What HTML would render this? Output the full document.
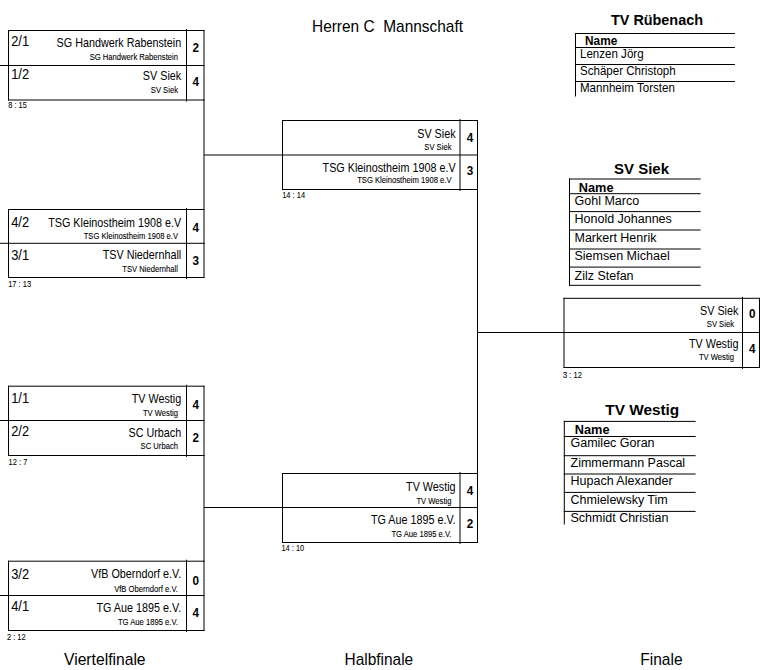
<!DOCTYPE html>
<html><head><meta charset="utf-8"><style>
html,body{margin:0;padding:0;background:#fff;width:760px;height:670px;overflow:hidden}
svg{display:block}
text{font-family:"Liberation Sans", sans-serif}
</style></head><body>
<svg width="760" height="670" viewBox="0 0 760 670">
<rect width="760" height="670" fill="#fff"/>
<line x1="8.0" y1="30.5" x2="204.5" y2="30.5" stroke="#000" stroke-width="1"/>
<line x1="8.0" y1="65.5" x2="204.5" y2="65.5" stroke="#000" stroke-width="1"/>
<line x1="8.0" y1="100.0" x2="204.5" y2="100.0" stroke="#000" stroke-width="1"/>
<line x1="8.5" y1="30.0" x2="8.5" y2="100.5" stroke="#000" stroke-width="1"/>
<line x1="204.0" y1="30.0" x2="204.0" y2="100.5" stroke="#000" stroke-width="1"/>
<line x1="186.5" y1="29.0" x2="186.5" y2="101.5" stroke="#000" stroke-width="1"/>
<line x1="0" y1="65.5" x2="8.5" y2="65.5" stroke="#000" stroke-width="1"/>
<text transform="translate(181.2 46.8) scale(0.805 1)" font-size="13.4" text-anchor="end" fill="#000">SG Handwerk Rabenstein</text>
<text transform="translate(178.0 60.3) scale(0.9 1)" font-size="8.5" text-anchor="end" fill="#000" stroke="#000" stroke-width="0.1">SG Handwerk Rabenstein</text>
<text transform="translate(195.75 52.3) scale(0.9 1)" font-size="13" text-anchor="middle" font-weight="bold" fill="#000">2</text>
<text transform="translate(181.2 79.9) scale(0.805 1)" font-size="13.4" text-anchor="end" fill="#000">SV Siek</text>
<text transform="translate(178.0 93.1) scale(0.9 1)" font-size="8.5" text-anchor="end" fill="#000" stroke="#000" stroke-width="0.1">SV Siek</text>
<text transform="translate(195.75 85.9) scale(0.9 1)" font-size="13" text-anchor="middle" font-weight="bold" fill="#000">4</text>
<text transform="translate(11.2 45.8) scale(0.92 1)" font-size="14" text-anchor="start" fill="#000">2/1</text>
<text transform="translate(11.2 79.0) scale(0.92 1)" font-size="14" text-anchor="start" fill="#000">1/2</text>
<text transform="translate(8.2 107.9) scale(0.83 1)" font-size="9" text-anchor="start" fill="#000" stroke="#000" stroke-width="0.08">8 : 15</text>
<line x1="8.0" y1="209.5" x2="204.5" y2="209.5" stroke="#000" stroke-width="1"/>
<line x1="8.0" y1="243.3" x2="204.5" y2="243.3" stroke="#000" stroke-width="1"/>
<line x1="8.0" y1="277.5" x2="204.5" y2="277.5" stroke="#000" stroke-width="1"/>
<line x1="8.5" y1="209.0" x2="8.5" y2="278.0" stroke="#000" stroke-width="1"/>
<line x1="204.0" y1="209.0" x2="204.0" y2="278.0" stroke="#000" stroke-width="1"/>
<line x1="186.5" y1="208.0" x2="186.5" y2="279.0" stroke="#000" stroke-width="1"/>
<line x1="0" y1="243.3" x2="8.5" y2="243.3" stroke="#000" stroke-width="1"/>
<text transform="translate(181.2 226.7) scale(0.805 1)" font-size="13.4" text-anchor="end" fill="#000">TSG Kleinostheim 1908 e.V</text>
<text transform="translate(178.0 239.1) scale(0.9 1)" font-size="8.5" text-anchor="end" fill="#000" stroke="#000" stroke-width="0.1">TSG Kleinostheim 1908 e.V</text>
<text transform="translate(195.75 231.6) scale(0.9 1)" font-size="13" text-anchor="middle" font-weight="bold" fill="#000">4</text>
<text transform="translate(181.2 259.3) scale(0.805 1)" font-size="13.4" text-anchor="end" fill="#000">TSV Niedernhall</text>
<text transform="translate(178.0 272.0) scale(0.9 1)" font-size="8.5" text-anchor="end" fill="#000" stroke="#000" stroke-width="0.1">TSV Niedernhall</text>
<text transform="translate(195.75 264.7) scale(0.9 1)" font-size="13" text-anchor="middle" font-weight="bold" fill="#000">3</text>
<text transform="translate(11.2 226.8) scale(0.92 1)" font-size="14" text-anchor="start" fill="#000">4/2</text>
<text transform="translate(11.2 259.5) scale(0.92 1)" font-size="14" text-anchor="start" fill="#000">3/1</text>
<text transform="translate(8.2 286.8) scale(0.83 1)" font-size="9" text-anchor="start" fill="#000" stroke="#000" stroke-width="0.08">17 : 13</text>
<line x1="8.0" y1="386.2" x2="204.5" y2="386.2" stroke="#000" stroke-width="1"/>
<line x1="8.0" y1="420.5" x2="204.5" y2="420.5" stroke="#000" stroke-width="1"/>
<line x1="8.0" y1="455.5" x2="204.5" y2="455.5" stroke="#000" stroke-width="1"/>
<line x1="8.5" y1="385.7" x2="8.5" y2="456.0" stroke="#000" stroke-width="1"/>
<line x1="204.0" y1="385.7" x2="204.0" y2="456.0" stroke="#000" stroke-width="1"/>
<line x1="186.5" y1="384.7" x2="186.5" y2="457.0" stroke="#000" stroke-width="1"/>
<line x1="0" y1="420.5" x2="8.5" y2="420.5" stroke="#000" stroke-width="1"/>
<text transform="translate(181.2 403.4) scale(0.805 1)" font-size="13.4" text-anchor="end" fill="#000">TV Westig</text>
<text transform="translate(178.0 415.8) scale(0.9 1)" font-size="8.5" text-anchor="end" fill="#000" stroke="#000" stroke-width="0.1">TV Westig</text>
<text transform="translate(195.75 409.2) scale(0.9 1)" font-size="13" text-anchor="middle" font-weight="bold" fill="#000">4</text>
<text transform="translate(181.2 436.6) scale(0.805 1)" font-size="13.4" text-anchor="end" fill="#000">SC Urbach</text>
<text transform="translate(178.0 448.7) scale(0.9 1)" font-size="8.5" text-anchor="end" fill="#000" stroke="#000" stroke-width="0.1">SC Urbach</text>
<text transform="translate(195.75 442.1) scale(0.9 1)" font-size="13" text-anchor="middle" font-weight="bold" fill="#000">2</text>
<text transform="translate(11.2 403.4) scale(0.92 1)" font-size="14" text-anchor="start" fill="#000">1/1</text>
<text transform="translate(11.2 436.0) scale(0.92 1)" font-size="14" text-anchor="start" fill="#000">2/2</text>
<text transform="translate(8.6 464.7) scale(0.83 1)" font-size="9" text-anchor="start" fill="#000" stroke="#000" stroke-width="0.08">12 : 7</text>
<line x1="8.0" y1="561.2" x2="204.5" y2="561.2" stroke="#000" stroke-width="1"/>
<line x1="8.0" y1="595.5" x2="204.5" y2="595.5" stroke="#000" stroke-width="1"/>
<line x1="8.0" y1="630.5" x2="204.5" y2="630.5" stroke="#000" stroke-width="1"/>
<line x1="8.5" y1="560.7" x2="8.5" y2="631.0" stroke="#000" stroke-width="1"/>
<line x1="204.0" y1="560.7" x2="204.0" y2="631.0" stroke="#000" stroke-width="1"/>
<line x1="186.5" y1="559.7" x2="186.5" y2="632.0" stroke="#000" stroke-width="1"/>
<line x1="0" y1="595.5" x2="8.5" y2="595.5" stroke="#000" stroke-width="1"/>
<text transform="translate(181.2 578.4) scale(0.805 1)" font-size="13.4" text-anchor="end" fill="#000">VfB Oberndorf e.V.</text>
<text transform="translate(178.0 591.8) scale(0.9 1)" font-size="8.5" text-anchor="end" fill="#000" stroke="#000" stroke-width="0.1">VfB Oberndorf e.V.</text>
<text transform="translate(195.75 584.6) scale(0.9 1)" font-size="13" text-anchor="middle" font-weight="bold" fill="#000">0</text>
<text transform="translate(181.2 611.8) scale(0.805 1)" font-size="13.4" text-anchor="end" fill="#000">TG Aue 1895 e.V.</text>
<text transform="translate(178.0 624.7) scale(0.9 1)" font-size="8.5" text-anchor="end" fill="#000" stroke="#000" stroke-width="0.1">TG Aue 1895 e.V.</text>
<text transform="translate(195.75 617.1) scale(0.9 1)" font-size="13" text-anchor="middle" font-weight="bold" fill="#000">4</text>
<text transform="translate(11.2 578.7) scale(0.92 1)" font-size="14" text-anchor="start" fill="#000">3/2</text>
<text transform="translate(11.2 611.0) scale(0.92 1)" font-size="14" text-anchor="start" fill="#000">4/1</text>
<text transform="translate(6.999999999999999 639.7) scale(0.83 1)" font-size="9" text-anchor="start" fill="#000" stroke="#000" stroke-width="0.08">2 : 12</text>
<line x1="204.0" y1="100.0" x2="204.0" y2="209.5" stroke="#000" stroke-width="1"/>
<line x1="204.0" y1="155.0" x2="282.5" y2="155.0" stroke="#000" stroke-width="1"/>
<line x1="204.0" y1="455.5" x2="204.0" y2="561.2" stroke="#000" stroke-width="1"/>
<line x1="204.0" y1="507.5" x2="282.5" y2="507.5" stroke="#000" stroke-width="1"/>
<line x1="282.0" y1="120.5" x2="478.0" y2="120.5" stroke="#000" stroke-width="1"/>
<line x1="282.0" y1="155.0" x2="478.0" y2="155.0" stroke="#000" stroke-width="1"/>
<line x1="282.0" y1="189.5" x2="478.0" y2="189.5" stroke="#000" stroke-width="1"/>
<line x1="282.5" y1="120.0" x2="282.5" y2="190.0" stroke="#000" stroke-width="1"/>
<line x1="477.5" y1="120.0" x2="477.5" y2="190.0" stroke="#000" stroke-width="1"/>
<line x1="460.0" y1="119.0" x2="460.0" y2="191.0" stroke="#000" stroke-width="1"/>
<text transform="translate(455.6 138.3) scale(0.805 1)" font-size="13.4" text-anchor="end" fill="#000">SV Siek</text>
<text transform="translate(451.5 149.8) scale(0.9 1)" font-size="8.5" text-anchor="end" fill="#000" stroke="#000" stroke-width="0.1">SV Siek</text>
<text transform="translate(470.05 141.9) scale(0.9 1)" font-size="13" text-anchor="middle" font-weight="bold" fill="#000">4</text>
<text transform="translate(455.6 171.6) scale(0.805 1)" font-size="13.4" text-anchor="end" fill="#000">TSG Kleinostheim 1908 e.V</text>
<text transform="translate(451.5 183.1) scale(0.9 1)" font-size="8.5" text-anchor="end" fill="#000" stroke="#000" stroke-width="0.1">TSG Kleinostheim 1908 e.V</text>
<text transform="translate(470.05 174.8) scale(0.9 1)" font-size="13" text-anchor="middle" font-weight="bold" fill="#000">3</text>
<text transform="translate(282.2 197.9) scale(0.83 1)" font-size="9" text-anchor="start" fill="#000" stroke="#000" stroke-width="0.08">14 : 14</text>
<line x1="282.0" y1="473.5" x2="478.0" y2="473.5" stroke="#000" stroke-width="1"/>
<line x1="282.0" y1="507.5" x2="478.0" y2="507.5" stroke="#000" stroke-width="1"/>
<line x1="282.0" y1="542.5" x2="478.0" y2="542.5" stroke="#000" stroke-width="1"/>
<line x1="282.5" y1="473.0" x2="282.5" y2="543.0" stroke="#000" stroke-width="1"/>
<line x1="477.5" y1="473.0" x2="477.5" y2="543.0" stroke="#000" stroke-width="1"/>
<line x1="460.0" y1="472.0" x2="460.0" y2="544.0" stroke="#000" stroke-width="1"/>
<text transform="translate(455.6 491.3) scale(0.805 1)" font-size="13.4" text-anchor="end" fill="#000">TV Westig</text>
<text transform="translate(451.5 504.1) scale(0.9 1)" font-size="8.5" text-anchor="end" fill="#000" stroke="#000" stroke-width="0.1">TV Westig</text>
<text transform="translate(470.05 494.9) scale(0.9 1)" font-size="13" text-anchor="middle" font-weight="bold" fill="#000">4</text>
<text transform="translate(455.6 523.8) scale(0.805 1)" font-size="13.4" text-anchor="end" fill="#000">TG Aue 1895 e.V.</text>
<text transform="translate(451.5 536.7) scale(0.9 1)" font-size="8.5" text-anchor="end" fill="#000" stroke="#000" stroke-width="0.1">TG Aue 1895 e.V.</text>
<text transform="translate(470.05 527.8) scale(0.9 1)" font-size="13" text-anchor="middle" font-weight="bold" fill="#000">2</text>
<text transform="translate(281.4 551.0) scale(0.83 1)" font-size="9" text-anchor="start" fill="#000" stroke="#000" stroke-width="0.08">14 : 10</text>
<line x1="477.5" y1="189.5" x2="477.5" y2="473.5" stroke="#000" stroke-width="1"/>
<line x1="477.5" y1="332.5" x2="564.0" y2="332.5" stroke="#000" stroke-width="1"/>
<line x1="563.5" y1="298.3" x2="760.0" y2="298.3" stroke="#000" stroke-width="1"/>
<line x1="563.5" y1="332.5" x2="760.0" y2="332.5" stroke="#000" stroke-width="1"/>
<line x1="563.5" y1="367.5" x2="760.0" y2="367.5" stroke="#000" stroke-width="1"/>
<line x1="564.0" y1="297.8" x2="564.0" y2="368.0" stroke="#000" stroke-width="1"/>
<line x1="759.5" y1="297.8" x2="759.5" y2="368.0" stroke="#000" stroke-width="1"/>
<line x1="742.5" y1="296.8" x2="742.5" y2="369.0" stroke="#000" stroke-width="1"/>
<text transform="translate(738.4 315.4) scale(0.805 1)" font-size="13.4" text-anchor="end" fill="#000">SV Siek</text>
<text transform="translate(734.0 326.9) scale(0.9 1)" font-size="8.5" text-anchor="end" fill="#000" stroke="#000" stroke-width="0.1">SV Siek</text>
<text transform="translate(752.3 318.3) scale(0.9 1)" font-size="13" text-anchor="middle" font-weight="bold" fill="#000">0</text>
<text transform="translate(738.4 347.9) scale(0.805 1)" font-size="13.4" text-anchor="end" fill="#000">TV Westig</text>
<text transform="translate(734.0 360.4) scale(0.9 1)" font-size="8.5" text-anchor="end" fill="#000" stroke="#000" stroke-width="0.1">TV Westig</text>
<text transform="translate(752.3 352.5) scale(0.9 1)" font-size="13" text-anchor="middle" font-weight="bold" fill="#000">4</text>
<text transform="translate(563.1 377.9) scale(0.83 1)" font-size="9" text-anchor="start" fill="#000" stroke="#000" stroke-width="0.08">3 : 12</text>
<text transform="translate(312.0 32.3) scale(0.965 1)" font-size="16" text-anchor="start" fill="#000">Herren C&#160; Mannschaft</text>
<text transform="translate(64.0 665.2) scale(0.98 1)" font-size="16" text-anchor="start" fill="#000">Viertelfinale</text>
<text transform="translate(344.5 665.0) scale(0.965 1)" font-size="16" text-anchor="start" fill="#000">Halbfinale</text>
<text transform="translate(640.3 665.2) scale(0.97 1)" font-size="16" text-anchor="start" fill="#000">Finale</text>
<text transform="translate(611.0 25.0) scale(0.96 1)" font-size="15" text-anchor="start" font-weight="bold" fill="#000">TV R&#252;benach</text>
<line x1="575.0" y1="33.5" x2="735" y2="33.5" stroke="#000" stroke-width="1"/>
<line x1="575.0" y1="47.5" x2="735" y2="47.5" stroke="#000" stroke-width="1"/>
<line x1="575.0" y1="64.5" x2="735" y2="64.5" stroke="#000" stroke-width="1"/>
<line x1="575.0" y1="81.5" x2="735" y2="81.5" stroke="#000" stroke-width="1"/>
<line x1="575.5" y1="33.0" x2="575.5" y2="96.5" stroke="#000" stroke-width="1"/>
<text transform="translate(585.0 45.2) scale(0.95 1)" font-size="12.5" text-anchor="start" font-weight="bold" fill="#000">Name</text>
<text transform="translate(580.0 58.0) scale(0.925 1)" font-size="12.5" text-anchor="start" fill="#000">Lenzen J&#246;rg</text>
<text transform="translate(580.0 74.8) scale(0.925 1)" font-size="12.5" text-anchor="start" fill="#000">Sch&#228;per Christoph</text>
<text transform="translate(580.0 91.6) scale(0.925 1)" font-size="12.5" text-anchor="start" fill="#000">Mannheim Torsten</text>
<text transform="translate(614.0 173.6) scale(1.0 1)" font-size="15" text-anchor="start" font-weight="bold" fill="#000">SV Siek</text>
<line x1="569.0" y1="179.0" x2="700.6" y2="179.0" stroke="#000" stroke-width="1"/>
<line x1="569.0" y1="193.7" x2="700.6" y2="193.7" stroke="#000" stroke-width="1"/>
<line x1="569.0" y1="211.6" x2="700.6" y2="211.6" stroke="#000" stroke-width="1"/>
<line x1="569.0" y1="230.0" x2="700.6" y2="230.0" stroke="#000" stroke-width="1"/>
<line x1="569.0" y1="249.0" x2="700.6" y2="249.0" stroke="#000" stroke-width="1"/>
<line x1="569.0" y1="267.1" x2="700.6" y2="267.1" stroke="#000" stroke-width="1"/>
<line x1="569.0" y1="285.3" x2="700.6" y2="285.3" stroke="#000" stroke-width="1"/>
<line x1="569.5" y1="178.5" x2="569.5" y2="285.8" stroke="#000" stroke-width="1"/>
<text transform="translate(578.8 191.5) scale(1.02 1)" font-size="12.5" text-anchor="start" font-weight="bold" fill="#000">Name</text>
<text transform="translate(574.5 204.5) scale(1.0 1)" font-size="12.5" text-anchor="start" fill="#000">Gohl Marco</text>
<text transform="translate(574.5 222.8) scale(1.0 1)" font-size="12.5" text-anchor="start" fill="#000">Honold Johannes</text>
<text transform="translate(574.5 241.9) scale(1.0 1)" font-size="12.5" text-anchor="start" fill="#000">Markert Henrik</text>
<text transform="translate(574.5 259.8) scale(1.0 1)" font-size="12.5" text-anchor="start" fill="#000">Siemsen Michael</text>
<text transform="translate(574.5 279.9) scale(1.0 1)" font-size="12.5" text-anchor="start" fill="#000">Zilz Stefan</text>
<text transform="translate(605.3 415.0) scale(1.025 1)" font-size="15" text-anchor="start" font-weight="bold" fill="#000">TV Westig</text>
<line x1="563.8" y1="421.4" x2="695.6" y2="421.4" stroke="#000" stroke-width="1"/>
<line x1="563.8" y1="436.5" x2="695.6" y2="436.5" stroke="#000" stroke-width="1"/>
<line x1="563.8" y1="455.7" x2="695.6" y2="455.7" stroke="#000" stroke-width="1"/>
<line x1="563.8" y1="474.0" x2="695.6" y2="474.0" stroke="#000" stroke-width="1"/>
<line x1="563.8" y1="492.4" x2="695.6" y2="492.4" stroke="#000" stroke-width="1"/>
<line x1="563.8" y1="511.4" x2="695.6" y2="511.4" stroke="#000" stroke-width="1"/>
<line x1="564.3" y1="420.9" x2="564.3" y2="524.5" stroke="#000" stroke-width="1"/>
<text transform="translate(574.8 434.2) scale(1.02 1)" font-size="12.5" text-anchor="start" font-weight="bold" fill="#000">Name</text>
<text transform="translate(570.5 447.2) scale(1.0 1)" font-size="12.5" text-anchor="start" fill="#000">Gamilec Goran</text>
<text transform="translate(570.5 466.5) scale(1.0 1)" font-size="12.5" text-anchor="start" fill="#000">Zimmermann Pascal</text>
<text transform="translate(570.5 484.8) scale(1.0 1)" font-size="12.5" text-anchor="start" fill="#000">Hupach Alexander</text>
<text transform="translate(570.5 503.6) scale(1.0 1)" font-size="12.5" text-anchor="start" fill="#000">Chmielewsky Tim</text>
<text transform="translate(570.5 522.4) scale(1.0 1)" font-size="12.5" text-anchor="start" fill="#000">Schmidt Christian</text>
</svg>
</body></html>
